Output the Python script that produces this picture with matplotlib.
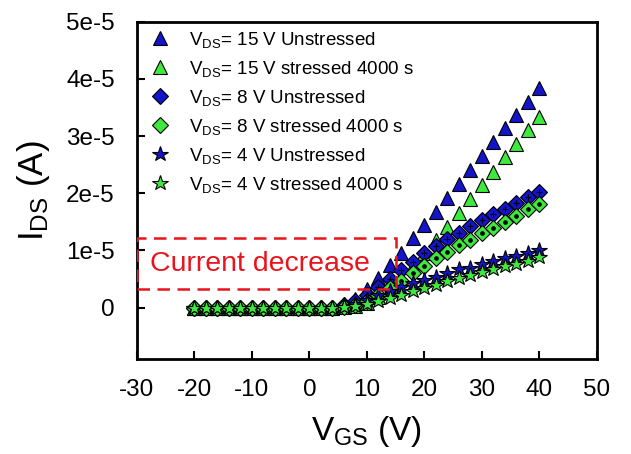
import numpy as np
import matplotlib
matplotlib.use("Agg")
import matplotlib.pyplot as plt
from matplotlib.patches import Rectangle

plt.rcParams["font.family"] = ["Liberation Sans", "DejaVu Sans"]
plt.rcParams["mathtext.fontset"] = "custom"
plt.rcParams["mathtext.rm"] = "Liberation Sans"

# gate voltage sweep (V)
vgs = np.arange(-20, 41, 2)

# drain current, units of 1e-5 A, values for VGS = 6 ... 40 (below 6 V ~ 0)
id15_unstressed = [0.06, 0.16, 0.32, 0.52, 0.74, 0.96, 1.21, 1.44, 1.67, 1.91,
                   2.16, 2.40, 2.65, 2.89, 3.14, 3.37, 3.60, 3.84]
id15_stressed = [0.01, 0.03, 0.08, 0.18, 0.33, 0.52, 0.73, 0.95, 1.18, 1.41,
                 1.65, 1.90, 2.14, 2.37, 2.63, 2.86, 3.11, 3.33]
id8_unstressed = [0.04, 0.11, 0.22, 0.36, 0.50, 0.65, 0.80, 0.96, 1.08, 1.20,
                  1.31, 1.42, 1.53, 1.63, 1.73, 1.83, 1.94, 2.03]
id8_stressed = [0.015, 0.05, 0.12, 0.22, 0.34, 0.47, 0.60, 0.73, 0.87, 0.98,
                1.09, 1.19, 1.31, 1.40, 1.50, 1.61, 1.72, 1.82]
id4_unstressed = [0.02, 0.07, 0.14, 0.22, 0.30, 0.37, 0.43, 0.49, 0.54, 0.60,
                  0.67, 0.70, 0.77, 0.81, 0.86, 0.90, 0.95, 1.01]
id4_stressed = [0.01, 0.025, 0.06, 0.11, 0.17, 0.23, 0.29, 0.35, 0.40, 0.47,
                0.51, 0.57, 0.63, 0.68, 0.72, 0.77, 0.82, 0.88]

labels = [
    r"$\mathregular{V_{DS}}$= 15 V Unstressed",
    r"$\mathregular{V_{DS}}$= 15 V stressed 4000 s",
    r"$\mathregular{V_{DS}}$= 8 V Unstressed",
    r"$\mathregular{V_{DS}}$= 8 V stressed 4000 s",
    r"$\mathregular{V_{DS}}$= 4 V Unstressed",
    r"$\mathregular{V_{DS}}$= 4 V stressed 4000 s",
]
yticks = [0, 1e-5, 2e-5, 3e-5, 4e-5, 5e-5]
ytick_labels = ["0", "1e-5", "2e-5", "3e-5", "4e-5", "5e-5"]
xticks = [-30, -20, -10, 0, 10, 20, 30, 40, 50]

BLUE = "#1414c8"
GREEN = "#3ee83e"


def full_curve(on_values):
    n_off = len(vgs) - len(on_values)
    return np.concatenate([np.zeros(n_off), np.array(on_values)]) * 1e-5


fig = plt.figure(figsize=(6.31, 4.54), dpi=100)
ax = fig.add_axes([0.217, 0.209, 0.729, 0.743])

series = [
    (id15_unstressed, "^", BLUE, 10, None),
    (id15_stressed, "^", GREEN, 10, None),
    (id8_unstressed, "D", BLUE, 8, "+"),
    (id8_stressed, "D", GREEN, 8, "."),
    (id4_unstressed, "*", BLUE, 11.5, None),
    (id4_stressed, "*", GREEN, 11.5, None),
]
for (vals, marker, color, size, inner), label in zip(series, labels):
    y = full_curve(vals)
    ax.plot(vgs, y, linestyle="none", marker=marker, markersize=size,
            markerfacecolor=color, markeredgecolor="black", markeredgewidth=0.8,
            label=label)
    if inner is not None:
        ax.plot(vgs, y, linestyle="none", marker=inner, markersize=5,
                color="black", markeredgewidth=0.8)

# annotation box
ax.add_patch(Rectangle((-30, 0.33e-5), 45.0, 0.88e-5, fill=False,
                       edgecolor="#e8141e", linewidth=1.8, linestyle=(0, (5, 3)),
                       zorder=5))
ax.text(-27.7, 0.77e-5, "Current decrease", color="#e8141e", fontsize=20.5,
        va="center", ha="left", zorder=5)

ax.set_xlim(-30, 50)
ax.set_ylim(-0.9e-5, 5e-5)
ax.set_xticks(xticks)
ax.set_xticklabels([str(t) for t in xticks])
ax.set_yticks(yticks)
ax.set_yticklabels(ytick_labels)
ax.tick_params(direction="in", length=6, width=1.5, labelsize=17.5)
ax.tick_params(axis="x", pad=14)
ax.tick_params(axis="y", pad=16)
for spine in ax.spines.values():
    spine.set_linewidth(2)

ax.set_xlabel(r"$\mathregular{V_{GS}}$ (V)", fontsize=24, labelpad=10)
ax.set_ylabel(r"$\mathregular{I_{DS}}$ (A)", fontsize=25, labelpad=10)

ax.legend(loc="upper left", bbox_to_anchor=(-0.01, 1.015), frameon=False,
          fontsize=13.5, handletextpad=0.8, labelspacing=0.48,
          borderaxespad=0.3, handlelength=1.5)

fig.savefig("out.png", dpi=100)
